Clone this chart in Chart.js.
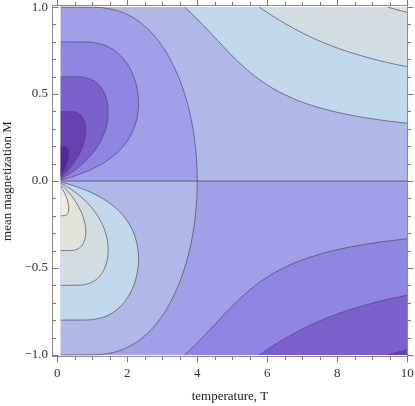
<!DOCTYPE html>
<html>
<head>
<meta charset="utf-8">
<script src="https://cdn.jsdelivr.net/npm/chart.js@4.4.1/dist/chart.umd.min.js"></script>
<style>
  html, body { margin: 0; padding: 0; background: #fff; }
</style>
</head>
<body>
<canvas id="plot" width="415" height="406"></canvas>
<script>
// plotted ranges and tick labels
const tempRange = [0.1, 10];
const magRange = [-1, 1];
const tempTicks = [0, 2, 4, 6, 8, 10];
const magTicks = [-1, -0.5, 0, 0.5, 1];

// contour levels are -0.8 ... 0.8 in steps of 0.2
// band colours, lowest band first
const bandColors = ['#512a98', '#6840b0', '#7c60cc', '#8e86e2', '#a09fe8',
                    '#b0b8e8', '#c2d8ec', '#d2dde2', '#e2e4dc', '#f2ebd8'];

// contour lines, each point is [T, M]
// upper half (M > 0)
const upperM08 = [[0.1,0.03],[0.159,0.05],[0.233,0.08],[0.272,0.1],[0.302,0.12],[0.322,0.14],[0.328,0.15],[0.329,0.16],[0.325,0.17],[0.313,0.18],[0.287,0.19],[0.26,0.195],[0.209,0.199],[0.1,0.2]];
const upperM06 = [[0.1,0.018],[0.162,0.03],[0.258,0.05],[0.345,0.07],[0.461,0.1],[0.617,0.15],[0.728,0.2],[0.796,0.25],[0.814,0.28],[0.815,0.3],[0.806,0.32],[0.764,0.35],[0.707,0.37],[0.662,0.38],[0.589,0.39],[0.528,0.395],[0.42,0.399],[0.1,0.4]];
const upperM04 = [[0.1,0.011],[0.179,0.02],[0.261,0.03],[0.413,0.05],[0.549,0.07],[0.728,0.1],[0.97,0.15],[1.154,0.2],[1.29,0.25],[1.384,0.3],[1.439,0.35],[1.456,0.4],[1.433,0.45],[1.396,0.48],[1.359,0.5],[1.309,0.52],[1.201,0.55],[1.09,0.57],[1.01,0.58],[0.892,0.59],[0.795,0.595],[0.631,0.599],[0.1,0.6]];
const upperM02 = [[0.1,0.005],[0.188,0.01],[0.358,0.02],[0.512,0.03],[0.783,0.05],[1.011,0.07],[1.292,0.1],[1.642,0.15],[1.888,0.2],[2.063,0.25],[2.185,0.3],[2.264,0.35],[2.308,0.4],[2.322,0.45],[2.306,0.5],[2.261,0.55],[2.185,0.6],[2.07,0.65],[1.977,0.68],[1.902,0.7],[1.812,0.72],[1.638,0.75],[1.472,0.77],[1.358,0.78],[1.194,0.79],[1.062,0.795],[0.841,0.799],[0.1,0.8]];
const upperZero = [[4.0,0],[3.986,0.1],[3.946,0.2],[3.877,0.3],[3.777,0.4],[3.641,0.5],[3.462,0.6],[3.228,0.7],[3.083,0.75],[2.913,0.8],[2.707,0.85],[2.445,0.9],[2.316,0.92],[2.074,0.95],[1.854,0.97],[1.706,0.98],[1.496,0.99],[1.329,0.995],[1.051,0.999],[0.1,1.0]];
const upperP02 = [[10.0,0.332],[9.65,0.34],[9.263,0.35],[8.622,0.37],[7.892,0.4],[7.048,0.45],[6.462,0.5],[6.02,0.55],[5.665,0.6],[5.364,0.65],[5.097,0.7],[4.851,0.75],[4.617,0.8],[4.385,0.85],[4.151,0.9],[3.906,0.95],[3.641,1.0]];
const upperP04 = [[10.0,0.657],[9.921,0.66],[9.454,0.68],[9.046,0.7],[8.209,0.75],[7.553,0.8],[7.015,0.85],[6.554,0.9],[6.145,0.95],[5.771,1.0]];
const upperP06 = [[10.0,0.9695],[9.798,0.98],[9.616,0.99],[9.442,1.0]];

// lower half (M < 0)
const lowerP08 = [[0.1,-0.2],[0.209,-0.199],[0.26,-0.195],[0.287,-0.19],[0.313,-0.18],[0.325,-0.17],[0.329,-0.16],[0.328,-0.15],[0.322,-0.14],[0.302,-0.12],[0.272,-0.1],[0.233,-0.08],[0.159,-0.05],[0.1,-0.03]];
const lowerP06 = [[0.1,-0.4],[0.42,-0.399],[0.528,-0.395],[0.589,-0.39],[0.662,-0.38],[0.707,-0.37],[0.764,-0.35],[0.806,-0.32],[0.815,-0.3],[0.814,-0.28],[0.796,-0.25],[0.728,-0.2],[0.617,-0.15],[0.461,-0.1],[0.345,-0.07],[0.258,-0.05],[0.162,-0.03],[0.1,-0.018]];
const lowerP04 = [[0.1,-0.6],[0.631,-0.599],[0.795,-0.595],[0.892,-0.59],[1.01,-0.58],[1.09,-0.57],[1.201,-0.55],[1.309,-0.52],[1.359,-0.5],[1.396,-0.48],[1.433,-0.45],[1.456,-0.4],[1.439,-0.35],[1.384,-0.3],[1.29,-0.25],[1.154,-0.2],[0.97,-0.15],[0.728,-0.1],[0.549,-0.07],[0.413,-0.05],[0.261,-0.03],[0.179,-0.02],[0.1,-0.011]];
const lowerP02 = [[0.1,-0.8],[0.841,-0.799],[1.062,-0.795],[1.194,-0.79],[1.358,-0.78],[1.472,-0.77],[1.638,-0.75],[1.812,-0.72],[1.902,-0.7],[1.977,-0.68],[2.07,-0.65],[2.185,-0.6],[2.261,-0.55],[2.306,-0.5],[2.322,-0.45],[2.308,-0.4],[2.264,-0.35],[2.185,-0.3],[2.063,-0.25],[1.888,-0.2],[1.642,-0.15],[1.292,-0.1],[1.011,-0.07],[0.783,-0.05],[0.512,-0.03],[0.358,-0.02],[0.188,-0.01],[0.1,-0.005]];
const lowerZero = [[0.1,-1.0],[1.051,-0.999],[1.329,-0.995],[1.496,-0.99],[1.706,-0.98],[1.854,-0.97],[2.074,-0.95],[2.316,-0.92],[2.445,-0.9],[2.707,-0.85],[2.913,-0.8],[3.083,-0.75],[3.228,-0.7],[3.462,-0.6],[3.641,-0.5],[3.777,-0.4],[3.877,-0.3],[3.946,-0.2],[3.986,-0.1],[4.0,0]];
const lowerM02 = [[3.641,-1.0],[3.906,-0.95],[4.151,-0.9],[4.385,-0.85],[4.617,-0.8],[4.851,-0.75],[5.097,-0.7],[5.364,-0.65],[5.665,-0.6],[6.02,-0.55],[6.462,-0.5],[7.048,-0.45],[7.892,-0.4],[8.622,-0.37],[9.263,-0.35],[9.65,-0.34],[10.0,-0.332]];
const lowerM04 = [[5.771,-1.0],[6.145,-0.95],[6.554,-0.9],[7.015,-0.85],[7.553,-0.8],[8.209,-0.75],[9.046,-0.7],[9.454,-0.68],[9.921,-0.66],[10.0,-0.657]];
const lowerM06 = [[9.442,-1.0],[9.616,-0.99],[9.798,-0.98],[10.0,-0.9695]];

const lineColor = 'rgba(70, 70, 95, 0.75)';
const serif = "'Liberation Serif', 'Times New Roman', serif";

// one filled contour region: area between the line and T = fillTo
function contour(points, fillTo, color, order) {
    return {
        data: points.map(p => ({ x: p[0], y: p[1] })),
        fill: { value: fillTo },
        backgroundColor: color,
        borderColor: lineColor,
        borderWidth: 0.9,
        pointRadius: 0,
        cubicInterpolationMode: 'monotone',
        order: order
    };
}

const left = tempRange[0], right = tempRange[1];
const datasets = [
    // upper half
    contour(upperZero, left, bandColors[4], 10),
    contour(upperM02, left, bandColors[3], 9),
    contour(upperM04, left, bandColors[2], 8),
    contour(upperM06, left, bandColors[1], 7),
    contour(upperM08, left, bandColors[0], 6),
    contour(upperP02, right, bandColors[6], 10),
    contour(upperP04, right, bandColors[7], 9),
    contour(upperP06, right, bandColors[8], 8),
    // lower half
    contour(lowerZero, left, bandColors[5], 10),
    contour(lowerP02, left, bandColors[6], 9),
    contour(lowerP04, left, bandColors[7], 8),
    contour(lowerP06, left, bandColors[8], 7),
    contour(lowerP08, left, bandColors[9], 6),
    contour(lowerM02, right, bandColors[3], 10),
    contour(lowerM04, right, bandColors[2], 9),
    contour(lowerM06, right, bandColors[1], 8),
    // M = 0 is itself a contour
    {
        data: [{ x: left, y: 0 }, { x: right, y: 0 }],
        fill: false,
        borderColor: 'rgba(80, 80, 105, 0.85)',
        borderWidth: 1.2,
        pointRadius: 0,
        order: 0
    }
];

// background bands and the Mathematica-like frame with ticks on all sides
const framePlugin = {
    id: 'frame',
    beforeDatasetsDraw(chart) {
        const { ctx, scales: { x, y } } = chart;
        const x0 = x.getPixelForValue(tempRange[0]);
        const x1 = x.getPixelForValue(tempRange[1]);
        const yTop = y.getPixelForValue(magRange[1]);
        const yMid = y.getPixelForValue(0);
        const yBot = y.getPixelForValue(magRange[0]);
        ctx.save();
        ctx.fillStyle = bandColors[5];
        ctx.fillRect(x0, yTop, x1 - x0, yMid - yTop);
        ctx.fillStyle = bandColors[4];
        ctx.fillRect(x0, yMid, x1 - x0, yBot - yMid);
        ctx.restore();
    },
    afterDraw(chart) {
        const { ctx, chartArea: a, scales: { x, y } } = chart;
        const L = Math.round(a.left) + 0.5, R = Math.round(a.right) - 0.5;
        const T = Math.round(a.top) + 0.5, B = Math.round(a.bottom) - 0.5;
        ctx.save();
        ctx.strokeStyle = '#8c8c8c';
        ctx.lineWidth = 1;
        ctx.strokeRect(L, T, R - L, B - T);
        ctx.strokeStyle = '#7a7a7a';
        ctx.beginPath();
        // temperature ticks, minor every 0.5
        for (let i = 0; i <= 20; i++) {
            const v = i * 0.5;
            const len = tempTicks.includes(v) ? 6 : 3.5;
            const px = Math.round(x.getPixelForValue(v)) + 0.5;
            ctx.moveTo(px, B); ctx.lineTo(px, B + len);
            ctx.moveTo(px, T); ctx.lineTo(px, T - len);
        }
        // magnetization ticks, minor every 0.1
        for (let i = -10; i <= 10; i++) {
            const v = i / 10;
            const len = (i % 5 === 0) ? 6 : 3.5;
            const py = Math.round(y.getPixelForValue(v)) + 0.5;
            ctx.moveTo(L, py); ctx.lineTo(L + len, py);
            ctx.moveTo(R, py); ctx.lineTo(R + len, py);
        }
        ctx.stroke();
        ctx.restore();
    }
};

new Chart(document.getElementById('plot').getContext('2d'), {
    type: 'line',
    data: { datasets: datasets },
    plugins: [framePlugin],
    options: {
        responsive: false,
        animation: false,
        indexAxis: 'y',
        layout: { padding: { left: 0, right: 7, top: 5, bottom: 0 } },
        plugins: {
            legend: { display: false },
            tooltip: { enabled: false }
        },
        scales: {
            x: {
                type: 'linear',
                min: -0.15,
                max: 10.02,
                afterBuildTicks: s => { s.ticks = tempTicks.map(v => ({ value: v })); },
                afterFit: s => { s.height = 49; s.paddingLeft = 0; s.paddingRight = 0; },
                grid: { display: false, drawTicks: false },
                border: { display: false },
                ticks: {
                    padding: 9,
                    color: '#333',
                    font: { family: serif, size: 13 },
                    callback: v => String(v)
                },
                title: {
                    display: true,
                    text: 'temperature, T',
                    color: '#222',
                    font: { family: serif, size: 13 },
                    padding: { top: 0, bottom: 2 }
                }
            },
            y: {
                type: 'linear',
                min: -1.012,
                max: 1.012,
                afterBuildTicks: s => { s.ticks = magTicks.map(v => ({ value: v })); },
                afterFit: s => { s.width = 52; s.paddingTop = 0; s.paddingBottom = 0; },
                grid: { display: false, drawTicks: false },
                border: { display: false },
                ticks: {
                    padding: 4,
                    color: '#333',
                    font: { family: serif, size: 13 },
                    callback: v => (v < 0 ? '\u2212' : '') + Math.abs(v).toFixed(1)
                },
                title: {
                    display: true,
                    text: 'mean magnetization M',
                    color: '#222',
                    font: { family: serif, size: 13 },
                    padding: { top: 0, bottom: 0 }
                }
            }
        }
    }
});
</script>
</body>
</html>
